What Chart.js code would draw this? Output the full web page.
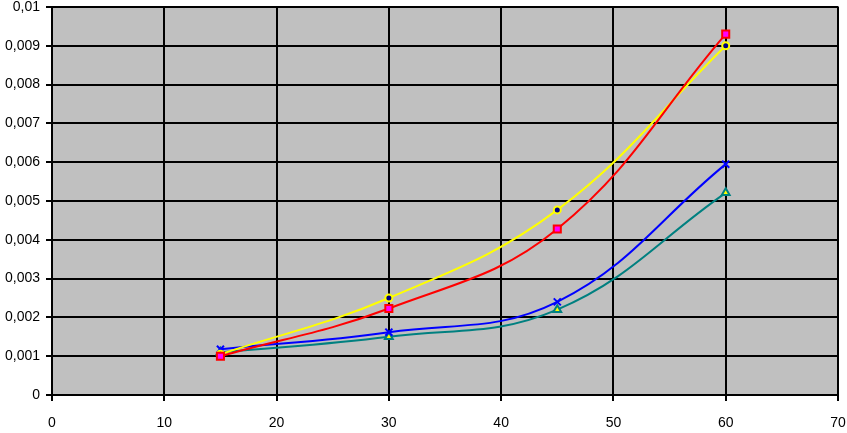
<!DOCTYPE html>
<html>
<head>
<meta charset="utf-8">
<script src="https://cdn.jsdelivr.net/npm/chart.js@4"></script>
<style>
  html, body { margin: 0; padding: 0; background: #fff; }
  #wrap { width: 847px; height: 433px; }
</style>
</head>
<body>
<div id="wrap"><canvas id="myChart"></canvas></div>
<script>
const xValues = [15, 30, 45, 60];
const redValues = [0.0010, 0.00223, 0.00428, 0.0093];
const yellowValues = [0.00105, 0.0025, 0.00477, 0.0090];
const blueValues = [0.00118, 0.00162, 0.0024, 0.00595];
const tealValues = [0.0011, 0.0015, 0.0022, 0.00521];

const toPoints = vals => vals.map((v, i) => ({ x: xValues[i], y: v }));

// fond gris de la zone de tracé
const plotBg = {
  id: 'plotBg',
  beforeDraw(chart) {
    const { ctx, chartArea: a } = chart;
    ctx.save();
    ctx.fillStyle = '#c0c0c0';
    ctx.fillRect(a.left, a.top, a.right - a.left, a.bottom - a.top);
    ctx.strokeStyle = '#808080';
    ctx.lineWidth = 2;
    ctx.beginPath();
    ctx.moveTo(a.left, a.top);
    ctx.lineTo(a.right, a.top);
    ctx.lineTo(a.right, a.bottom);
    ctx.stroke();
    ctx.restore();
  }
};

const tickFont = { family: 'Liberation Sans', size: 14 };

const ctxm = document.getElementById('myChart');
new Chart(ctxm, {
  type: 'scatter',
  data: {
    datasets: [
      {
        label: 'rouge',
        data: toPoints(redValues),
        showLine: true,
        borderColor: '#ff0000',
        borderWidth: 2,
        pointStyle: 'rect',
        pointRadius: 5,
        pointBackgroundColor: '#ff00ff',
        pointBorderColor: '#ff0000',
        pointBorderWidth: 2,
        tension: 0.4
      },
      {
        label: 'jaune',
        data: toPoints(yellowValues),
        showLine: true,
        borderColor: '#ffff00',
        borderWidth: 2,
        pointStyle: 'circle',
        pointRadius: 3.5,
        pointBackgroundColor: '#000080',
        pointBorderColor: '#ffff00',
        pointBorderWidth: 2,
        tension: 0.4
      },
      {
        label: 'bleu',
        data: toPoints(blueValues),
        showLine: true,
        borderColor: '#0000ff',
        borderWidth: 2,
        pointStyle: 'crossRot',
        pointRadius: 5,
        pointBorderColor: '#0000ff',
        pointBorderWidth: 2,
        tension: 0.4
      },
      {
        label: 'turquoise',
        data: toPoints(tealValues),
        showLine: true,
        borderColor: '#008080',
        borderWidth: 2,
        pointStyle: 'triangle',
        pointRadius: 4.5,
        pointBackgroundColor: '#ffff00',
        pointBorderColor: '#008080',
        pointBorderWidth: 2,
        tension: 0.4
      }
    ]
  },
  options: {
    responsive: true,
    maintainAspectRatio: false,
    animation: false,
    layout: { padding: { top: 5, right: 9, left: 0, bottom: 0 } },
    plugins: {
      legend: { display: false },
      tooltip: { enabled: false }
    },
    scales: {
      x: {
        type: 'linear',
        min: 0,
        max: 70,
        ticks: {
          stepSize: 10,
          color: '#000',
          padding: 14,
          font: tickFont
        },
        grid: { color: '#000', lineWidth: 2, tickLength: 6, tickColor: '#000' },
        border: { color: '#000', width: 2 },
        afterFit: s => {
          s.height = 38;
          s.paddingLeft = 0;
          s.paddingRight = 0;
        }
      },
      y: {
        min: 0,
        max: 0.01,
        ticks: {
          stepSize: 0.001,
          color: '#000',
          padding: 6,
          font: tickFont,
          callback: v => {
            const r = Math.round(v * 1000) / 1000;
            return r === 0 ? '0' : String(r).replace('.', ',');
          }
        },
        grid: { color: '#000', lineWidth: 2, tickLength: 6, tickColor: '#000' },
        border: { color: '#000', width: 2 },
        afterFit: s => {
          s.width = 52;
          s.paddingTop = 0;
          s.paddingBottom = 0;
        }
      }
    }
  },
  plugins: [plotBg]
});
</script>
</body>
</html>
